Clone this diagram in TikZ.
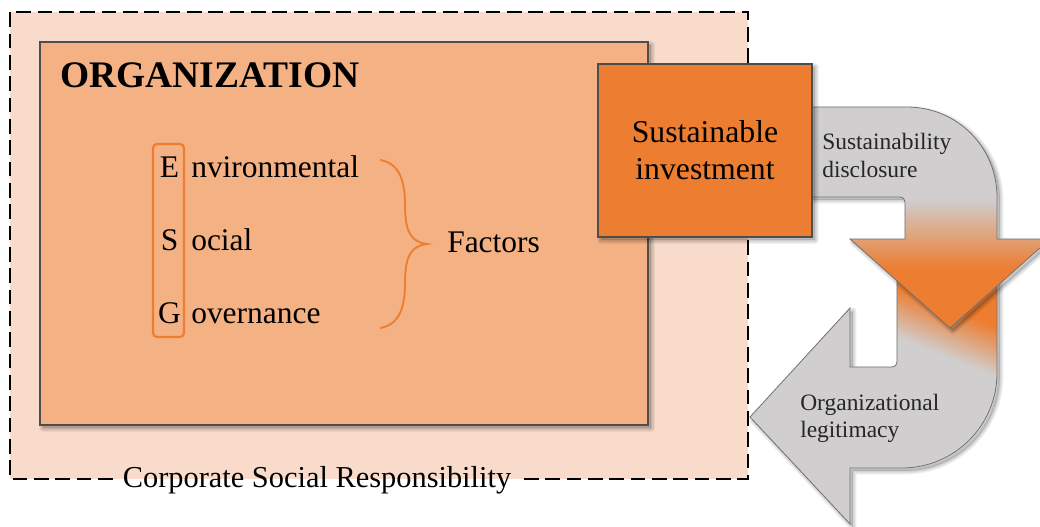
\documentclass[tikz,border=0pt]{standalone}
\usepackage{fontspec}
\setmainfont{Liberation Serif}

\definecolor{cframe}{HTML}{F8DBCA}
\definecolor{corg}{HTML}{F4B183}
\definecolor{cinv}{HTML}{ED7D31}
\definecolor{carrow}{HTML}{D0CECE}
\definecolor{cedge}{HTML}{4D4D4D}
\definecolor{ctext}{HTML}{262626}

% outlines of the two curved arrows
\def\loopArrowTop{(800,107) -- (907,107) .. controls (957,107) and (997,147) .. (997,197)
  -- (997,239) -- (1050,239) -- (950,328) -- (850,239) -- (905,239) -- (905,202)
  .. controls (905,199) and (903,197) .. (900,197) -- (800,197) -- cycle}
\def\loopArrowBottom{(897,270) -- (997,270) -- (997,373) .. controls (997,425) and (955,468) .. (902,468)
  -- (850,468) -- (850,524) -- (750,417) -- (850,308) -- (850,367) -- (892,367)
  .. controls (895,367) and (897,365) .. (897,362) -- cycle}
\def\orgPanel{(40,42) rectangle (648,425)}
\def\invPanel{(598,64) rectangle (812,237)}

% soft shadow cast to the lower right of a path
\newcommand\castshadow[1]{%
  \begin{scope}[transform canvas={shift={(2.2pt,-2.2pt)}}]
    \fill[black,opacity=0.14] #1;
    \foreach \w in {1.2,2.6,4,5.4}{\draw[black,opacity=0.05,line width=\w pt,line join=round] #1;}
  \end{scope}}

\begin{document}
\begin{tikzpicture}[x=0.75pt,y=-0.75pt,
  panel/.style={draw=cedge,line width=0.9pt},
  frameline/.style={line width=1.6pt,dash pattern=on 11pt off 5pt},
  esg/.style={font=\fontsize{23.6}{26}\selectfont,inner sep=0pt},
  alabel/.style={font=\fontsize{17.6}{21}\selectfont,text=ctext,anchor=base west,inner sep=0pt},
  arrowedge/.style={draw=cedge!80,line width=0.6pt}
]
\useasboundingbox (0,0) rectangle (1040,526);

% Corporate Social Responsibility frame
\fill[cframe] (10,12) rectangle (748,479);
\coordinate (fbl) at (10,479);
\coordinate (ftr) at (748,12);
\node[font=\fontsize{22.8}{26}\selectfont,anchor=base,inner xsep=7.5pt,inner ysep=0pt] (csr) at (317,487) {Corporate Social Responsibility};
\draw[frameline] (csr.west |- fbl) -- (fbl) -- (fbl |- ftr) -- (ftr) -- (ftr |- fbl) -- (csr.east |- fbl);

% Organization panel
\castshadow{\orgPanel}
\path[panel,fill=corg] \orgPanel;
\node[font=\bfseries\fontsize{28.1}{30}\selectfont,anchor=base west,inner sep=0pt] (org) at (60,87) {ORGANIZATION};

% ESG factors
\node[esg,anchor=base] (E) at (169.5,177) {E};
\node[esg,anchor=base west] (env) at (191,177) {nvironmental};
\node[esg,anchor=base] (S) at (169.5,250) {S};
\node[esg,anchor=base west] (soc) at (191,250) {ocial};
\node[esg,anchor=base] (G) at (169.5,323) {G};
\node[esg,anchor=base west] (gov) at (191,323) {overnance};
\draw[cinv,line width=1.6pt,rounded corners=3pt] (153,144) rectangle (184,337);

% brace towards Factors
\draw[cinv,line width=1.4pt] (380,160) .. controls (398,163) and (405,178) .. (405,205)
  .. controls (405,230) and (410,242) .. (427,244)
  .. controls (410,246) and (405,258) .. (405,283)
  .. controls (405,310) and (398,325) .. (380,328);
\node[esg,anchor=base west] (fac) at (447,252) {Factors};

% lower arrow: down-left towards the organization
\castshadow{\loopArrowBottom}
\fill[carrow] \loopArrowBottom;
\begin{scope}
  \clip \loopArrowBottom;
  \begin{scope}[transform canvas={rotate around={-22:(950,340)}}]
    \fill[cinv] (800,180) rectangle (1120,311);
    \shade[top color=cinv,bottom color=carrow] (800,310.5) rectangle (1120,357);
  \end{scope}
\end{scope}
\draw[arrowedge] \loopArrowBottom;

% upper arrow: from the investment box, right and down
\castshadow{\loopArrowTop}
\fill[carrow] \loopArrowTop;
\begin{scope}
  \clip \loopArrowTop;
  \fill[cinv] (790,268) rectangle (1060,340);
  \shade[top color=carrow,bottom color=cinv] (790,199) rectangle (1060,268.5);
\end{scope}
\draw[arrowedge] \loopArrowTop;

% Sustainable investment box
\castshadow{\invPanel}
\node[panel,fill=cinv,minimum width=160.5pt,minimum height=129.75pt,align=center,
      font=\fontsize{23.8}{27.75}\selectfont,inner sep=0pt] (sinv) at (705,150.5) {Sustainable\\investment};

% arrow labels
\node[alabel] (sd1) at (822,149) {Sustainability};
\node[alabel] (sd2) at (822,177) {disclosure};
\node[alabel] (ol1) at (800,410) {Organizational};
\node[alabel] (ol2) at (800,437) {legitimacy};
\end{tikzpicture}
\end{document}
